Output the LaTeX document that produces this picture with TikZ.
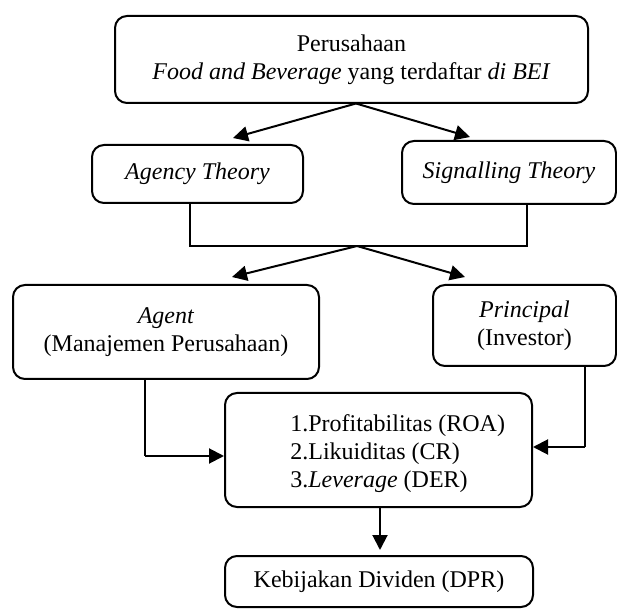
\documentclass[tikz,border=0pt]{standalone}
\usepackage{fontspec}
\setmainfont{Liberation Serif}
\usetikzlibrary{arrows.meta}
\tikzset{
  box/.style={draw, line width=1pt, rounded corners=6pt, inner sep=0pt, align=center, font=\fontsize{12}{14}\selectfont},
  arr/.style={line width=1pt, -{Triangle[length=7.5pt,width=7.5pt]}},
  thinline/.style={line width=0.6pt},
  txt/.style={inner sep=0pt, align=left, font=\fontsize{12}{14}\selectfont}
}
\begin{document}
\begin{tikzpicture}[x=0.5pt,y=-0.5pt]
\useasboundingbox (0,0) rectangle (617,610);
% boxes
\node[box, minimum width=236.5pt, minimum height=43.5pt] (top) at (351.5,59.5)
  {Perusahaan\\\textit{Food and Beverage} yang terdaftar \textit{di BEI}};
\node[box, minimum width=105.5pt, minimum height=29pt] (agency) at (197.5,174) {\textit{Agency Theory}};
\node[box, minimum width=107pt, minimum height=31.5pt] (signal) at (509,172.5) {\textit{Signalling Theory}};
\node[box, minimum width=153pt, minimum height=47pt] (agent) at (166,332) {\textit{Agent}\\(Manajemen Perusahaan)};
\node[box, minimum width=91.5pt, minimum height=40.5pt] (principal) at (524.5,325.5) {\textit{Principal}\\(Investor)};
\node[box, minimum width=153.5pt, minimum height=57pt] (mid) at (378.5,450) {};
\node[txt, anchor=west] (midtext) at (290,454)
  {1.Profitabilitas (ROA)\\2.Likuiditas (CR)\\3.\textit{Leverage} (DER)};
\node[box, minimum width=154pt, minimum height=25.5pt] (dpr) at (379,581.5) {Kebijakan Dividen (DPR)};
% coordinates
\coordinate (s1) at (356,103.5);
\coordinate (t1) at (233,138);
\coordinate (t2) at (470,137);
\coordinate (a1) at (190,203);
\coordinate (a2) at (190,246);
\coordinate (b2) at (527,246);
\coordinate (b1) at (527,204.5);
\coordinate (s2) at (357,246);
\coordinate (t3) at (232,277);
\coordinate (t4) at (465,277);
\coordinate (g1) at (145,379.5);
\coordinate (g2) at (145,456);
\coordinate (p1) at (585,366);
\coordinate (p2) at (585,447);
\coordinate (m1) at (380,507.5);
\coordinate (m2) at (380,550);
% connectors
\draw[arr] (s1) -- (t1);
\draw[arr] (s1) -- (t2);
\draw[thinline] (a1) -- (a2) -- (b2) -- (b1);
\draw[arr] (s2) -- (t3);
\draw[arr] (s2) -- (t4);
\draw[thinline] (g1) -- (g2);
\draw[arr] (g2) -- (g2 -| mid.west);
\draw[thinline] (p1) -- (p2);
\draw[arr] (p2) -- (p2 -| mid.east);
\draw[arr] (m1) -- (m2);
\end{tikzpicture}
\end{document}
